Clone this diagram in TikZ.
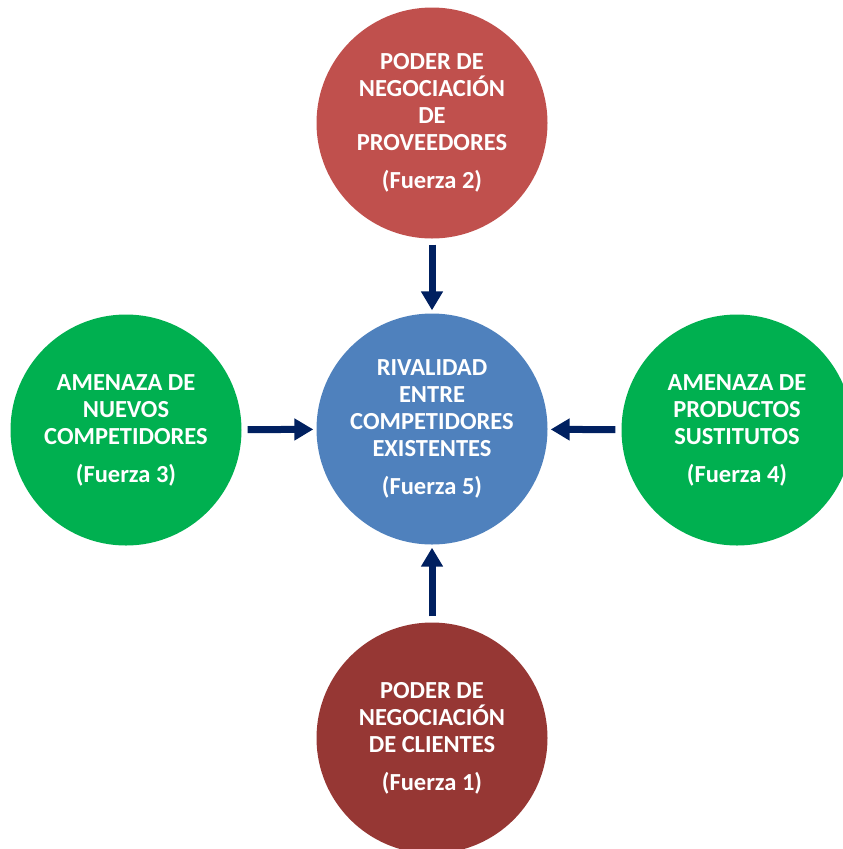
\documentclass[tikz,border=0pt]{standalone}
\usepackage{fontspec}
\setmainfont{Carlito}
\usepackage{xcolor}
\definecolor{Col1}{RGB}{192,80,77}
\definecolor{Col2}{RGB}{150,55,52}
\definecolor{Col3}{RGB}{0,176,80}
\definecolor{Col4}{RGB}{79,129,189}
\definecolor{Col5}{RGB}{0,32,96}
\usepackage{tikz}
\usetikzlibrary{arrows.meta}
\tikzstyle{Fuerza}=[circle,minimum size=231pt,inner sep=0pt,text=white,
    align=center,font=\fontsize{24.5}{27}\selectfont\bfseries]
\tikzstyle{Edge}=[draw=Col5,line width=7pt,
    -{Triangle[length=19pt,width=21pt]},shorten <=6pt,shorten >=3pt]

\begin{document}
\begin{tikzpicture}[x=1pt,y=-1pt]
    \useasboundingbox(0,0)rectangle(843,849);
    \node[Fuerza,fill=Col4](5)at(432,429)
        {RIVALIDAD\\ENTRE\\COMPETIDORES\\EXISTENTES\\[11pt](Fuerza 5)};
    \node[Fuerza,fill=Col1](2)at(432,123)
        {PODER DE\\NEGOCIACIÓN\\DE\\PROVEEDORES\\[11pt](Fuerza 2)};
    \node[Fuerza,fill=Col3](3)at(126,430)
        {AMENAZA DE\\NUEVOS\\COMPETIDORES\\[11pt](Fuerza 3)};
    \node[Fuerza,fill=Col3](4)at(737,430)
        {AMENAZA DE\\PRODUCTOS\\SUSTITUTOS\\[11pt](Fuerza 4)};
    \node[Fuerza,fill=Col2](1)at(432,738)
        {PODER DE\\NEGOCIACIÓN\\DE CLIENTES\\[11pt](Fuerza 1)};
    \draw[Edge](2)--(5);
    \draw[Edge](3)--(5);
    \draw[Edge](4)--(5);
    \draw[Edge](1)--(5);
\end{tikzpicture}
\end{document}
